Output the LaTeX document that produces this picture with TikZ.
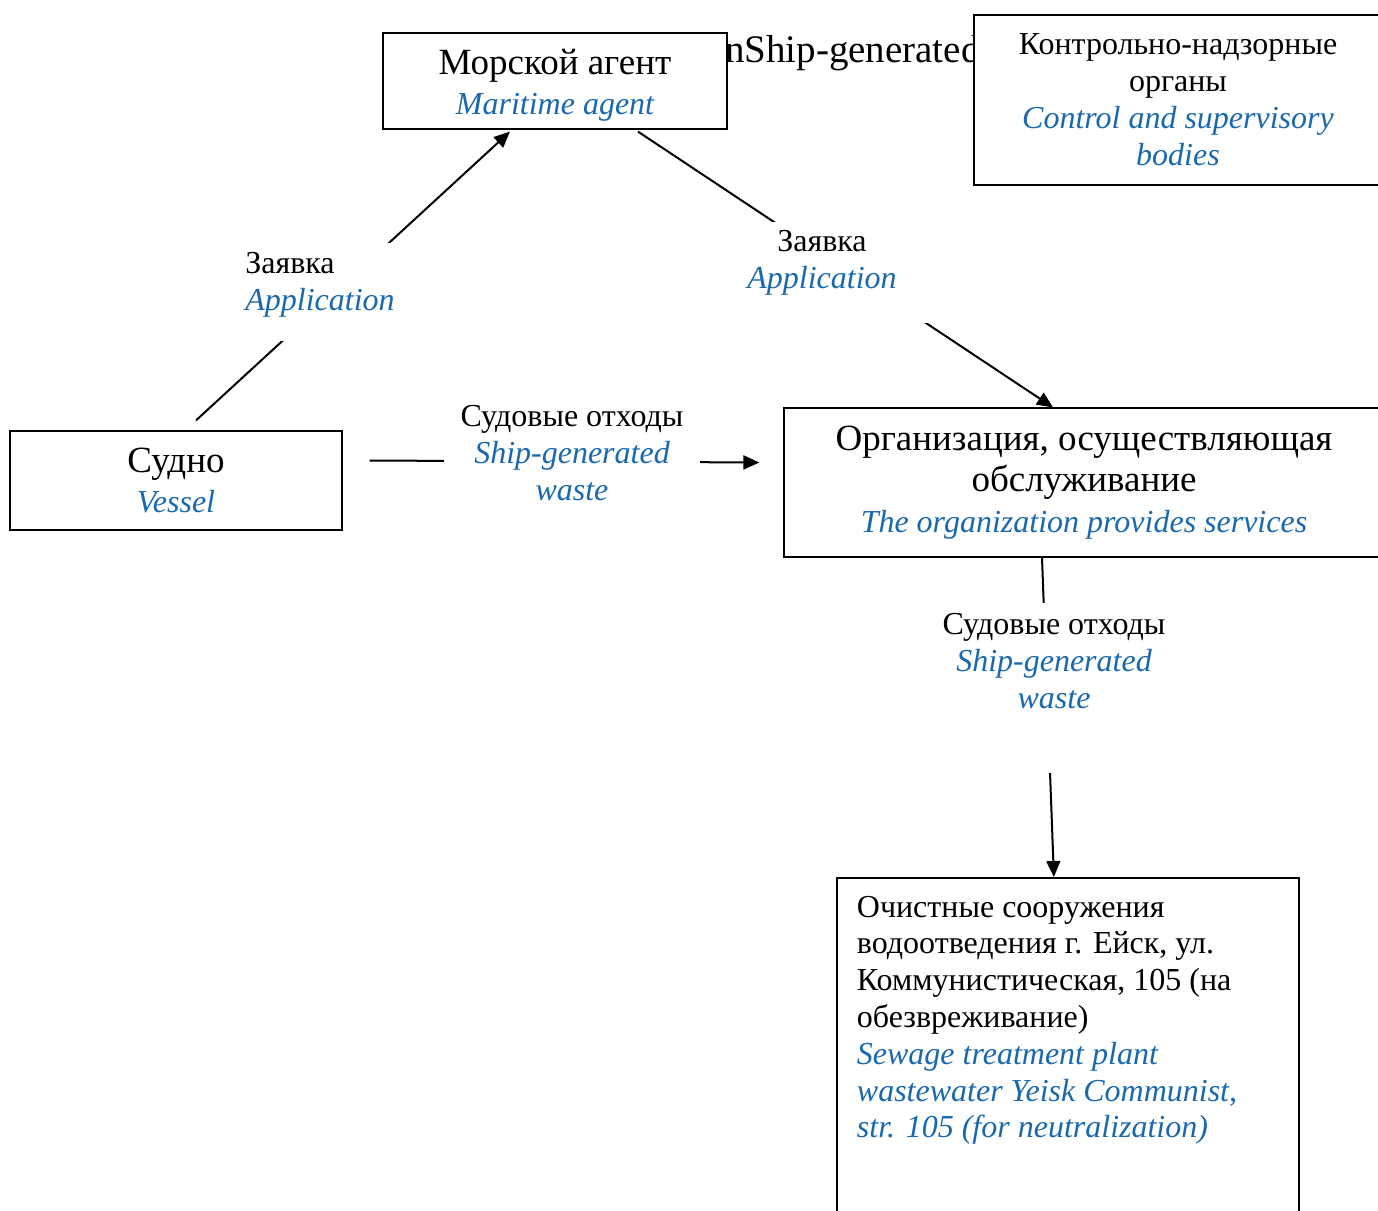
\documentclass[tikz,border=0pt]{standalone}
\usepackage{fontspec}
\setmainfont{Liberation Serif}
\usetikzlibrary{arrows.meta}
\definecolor{engblue}{RGB}{25,105,175}
\newcommand{\eng}[1]{{\color{engblue}\itshape #1}}
\newcommand{\headsize}{\fontsize{37}{43}\selectfont}
\newcommand{\lablines}[3]{\raisebox{#1}[0pt][0pt]{\begin{tabular}{@{}#2@{}}#3\end{tabular}}}

\begin{document}
\begin{tikzpicture}[x=1pt,y=-1pt,
    font=\fontsize{32}{37}\selectfont,
    box/.style={draw,fill=white,line width=1.2pt,align=center,inner sep=0pt},
    lab/.style={fill=white,inner sep=0pt},
    conn/.style={line width=2pt,-{Triangle[length=16pt,width=14pt]}}]
    \useasboundingbox (0,0) rectangle (1378,1210);

    \node[anchor=base west,font=\fontsize{39}{45}\selectfont] (hidden) at (702,62) {onShip-generated};

    \node[box,minimum width=344,minimum height=96,font=\fontsize{32}{40}\selectfont] (agent) at (555,81)
        {\lablines{-12pt}{c}{{\headsize Морской агент}\\\eng{Maritime agent}}};
    \node[box,line width=1.8pt,minimum width=408,minimum height=170] (control) at (1178,100)
        {Контрольно-надзорные\\органы\\\eng{Control and supervisory}\\\eng{bodies}};
    \node[box,minimum width=332,minimum height=99,font=\fontsize{32}{40}\selectfont] (vessel) at (176,480.5)
        {\lablines{-10.5pt}{c}{{\headsize Судно}\\\eng{Vessel}}};
    \node[box,minimum width=600,minimum height=149,font=\fontsize{32}{41}\selectfont] (org) at (1084,482.5)
        {{\headsize Организация, осуществляющая}\\{\headsize обслуживание}\\\eng{The organization provides services}};
    \node[box,line width=1.8pt,anchor=north west,inner xsep=20pt,inner ysep=18pt,font=\fontsize{32}{36.8}\selectfont] (plant) at (836,877)
        {\begin{minipage}[t][330pt][t]{422pt}\raggedright
        Очистные сооружения\\водоотведения г. Ейск, ул.\\Коммунистическая, 105 (на\\обезвреживание)\\
        \eng{Sewage treatment plant}\\\eng{wastewater Yeisk Communist,}\\\eng{str. 105 (for neutralization)}
        \end{minipage}};

    \draw[conn] ([xshift=20pt,yshift=10pt]vessel.north) -- ([xshift=-45pt,yshift=-2pt]agent.south);
    \draw[conn] ([xshift=83pt,yshift=-2pt]agent.south) -- ([xshift=-31pt]org.north);
    \draw[conn] ([xshift=27pt,yshift=20pt]vessel.east) -- ([xshift=-24pt,yshift=20pt]org.west);
    \draw[conn] ([xshift=-42pt]org.south) -- ([xshift=-14pt]plant.north);

    \node[lab,minimum width=150,minimum height=98] (apply1) at (320,292)
        {\lablines{1pt}{l}{Заявка\\\eng{Application}}};
    \node[lab,minimum width=216,minimum height=101] (apply2) at (822,272.5)
        {\lablines{4pt}{c}{Заявка\\\eng{Application}}};
    \node[lab,minimum width=256,minimum height=120] (waste1) at (572,453.5)
        {\lablines{-9pt}{c}{Судовые отходы\\\eng{Ship-generated}\\\eng{waste}}};
    \node[lab,minimum width=240,minimum height=170] (waste2) at (1054,688)
        {\lablines{18pt}{c}{Судовые отходы\\\eng{Ship-generated}\\\eng{waste}}};
\end{tikzpicture}
\end{document}
